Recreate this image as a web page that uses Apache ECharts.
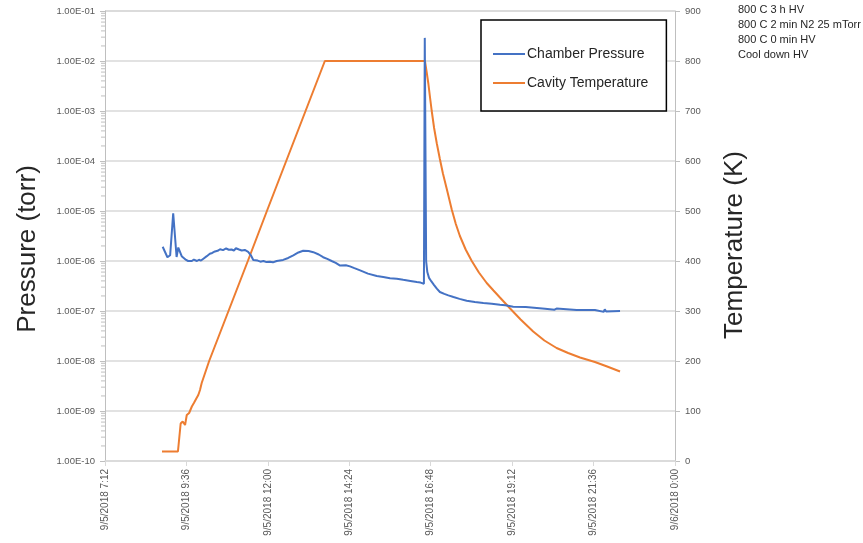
<!DOCTYPE html>
<html>
<head>
<meta charset="utf-8">
<script src="https://cdn.jsdelivr.net/npm/echarts@6/dist/echarts.min.js"></script>
<style>
  html, body { margin: 0; padding: 0; background: #fff; }
  #chart { width: 863px; height: 543px; }
</style>
</head>
<body>
<div id="chart"></div>
<script>
// Time of day in hours (9/5/2018), chamber pressure in torr
const pressureTime = [
  8.90, 9.04, 9.12, 9.21, 9.31, 9.36, 9.46, 9.59, 9.65, 9.70, 9.76, 9.82, 9.91, 9.97,
  10.03, 10.09, 10.20, 10.29, 10.36, 10.44, 10.52, 10.59, 10.68, 10.77, 10.85, 10.93,
  11.00, 11.06, 11.15, 11.23, 11.32, 11.42, 11.50, 11.57, 11.70, 11.78, 11.87, 11.96,
  12.06, 12.15, 12.26, 12.45, 12.60, 12.75, 12.90, 13.04, 13.20, 13.34, 13.50, 13.63,
  13.75, 13.88, 14.00, 14.13, 14.18, 14.30, 14.42, 14.55, 14.72, 14.95, 15.21, 15.40,
  15.60, 15.80, 15.99, 16.20, 16.39, 16.50, 16.60, 16.625, 16.645, 16.665, 16.70, 16.75,
  16.82, 16.90, 16.98, 17.07, 17.20, 17.32, 17.47, 17.65, 17.86, 18.10, 18.35, 18.60,
  18.84, 19.00, 19.23, 19.60, 20.17, 20.20, 20.45, 20.51, 20.55, 21.10, 21.64, 21.69,
  21.90, 21.93, 21.97, 22.38
];
const pressureValue = [
  1.93e-6, 1.19e-6, 1.3e-6, 9.0e-6, 1.2e-6, 1.86e-6, 1.25e-6, 1.05e-6, 1.0e-6, 1.08e-6, 1.0e-6, 1.07e-6, 1.0e-6, 1.06e-6,
  1.02e-6, 1.1e-6, 1.25e-6, 1.4e-6, 1.45e-6, 1.55e-6, 1.6e-6, 1.72e-6, 1.65e-6, 1.78e-6, 1.68e-6, 1.7e-6,
  1.62e-6, 1.8e-6, 1.7e-6, 1.62e-6, 1.66e-6, 1.52e-6, 1.3e-6, 1.05e-6, 1.02e-6, 0.97e-6, 1.0e-6, 0.95e-6,
  0.97e-6, 0.94e-6, 1.0e-6, 1.05e-6, 1.15e-6, 1.3e-6, 1.48e-6, 1.6e-6, 1.58e-6, 1.5e-6, 1.35e-6, 1.19e-6,
  1.1e-6, 1.0e-6, 0.92e-6, 8.1e-7, 8.8e-7, 8.2e-7, 7.8e-7, 7.2e-7, 6.5e-7, 5.6e-7, 5.0e-7, 4.8e-7,
  4.5e-7, 4.4e-7, 4.2e-7, 4.0e-7, 3.8e-7, 3.7e-7, 3.5e-7, 2.9e-2, 2.9e-2, 1.0e-6, 6.0e-7, 4.6e-7,
  3.9e-7, 3.3e-7, 2.8e-7, 2.4e-7, 2.2e-7, 2.05e-7, 1.9e-7, 1.75e-7, 1.6e-7, 1.52e-7, 1.45e-7, 1.4e-7,
  1.33e-7, 1.3e-7, 1.22e-7, 1.2e-7, 1.11e-7, 1.06e-7, 1.06e-7, 1.12e-7, 1.05e-7, 1.05e-7, 1.05e-7, 9.6e-8,
  9.6e-8, 1.08e-7, 9.8e-8, 1.0e-7
];

// Time of day in hours, cavity temperature in K
const tempTime = [
  8.88, 9.35, 9.43, 9.49, 9.56, 9.61, 9.68, 9.76, 9.82, 9.90, 9.95, 10.00, 10.05,
  10.27, 11.41, 12.00, 13.68, 16.63, 16.68, 16.73, 16.78, 16.83, 16.90, 16.98, 17.07,
  17.16, 17.27, 17.42, 17.54, 17.66, 17.83, 18.01, 18.22, 18.45, 18.65, 18.84, 19.14,
  19.45, 19.82, 20.15, 20.51, 20.85, 21.20, 21.64, 22.00, 22.38
];
const tempValue = [
  19, 19, 75, 79, 72, 92, 96, 109, 116, 126, 132, 142, 156,
  200, 400, 505, 800, 800, 778, 755, 727, 700, 666, 635, 604,
  575, 545, 503, 474, 450, 423, 400, 377, 356, 341, 327, 305,
  283, 259, 241, 226, 216, 207, 198, 189, 179
];

// Run conditions listed beside the chart
const notes = ['800 C 3 h HV', '800 C 2 min N2 25 mTorr', '800 C 0 min HV', 'Cool down HV'];

// Minor log ticks (2..9 within each decade) on the pressure axis
const minorTickValues = [];
for (let e = -10; e < -1; e++) {
  for (let k = 2; k <= 9; k++) minorTickValues.push(k * Math.pow(10, e));
}

const textGray = '#595959';
const gridGray = '#d9d9d9';
const font = 'Liberation Sans';

function fmtExp(v) {
  const e = Math.round(Math.log10(v));
  const sign = e < 0 ? '-' : '+';
  const a = Math.abs(e);
  return '1.00E' + sign + (a < 10 ? '0' + a : a);
}
function fmtTime(h) {
  const total = Math.round(h * 60);
  const day = total >= 24 * 60 ? '9/6/2018' : '9/5/2018';
  const m = total % (24 * 60);
  const hh = Math.floor(m / 60);
  const mm = m % 60;
  return day + ' ' + hh + ':' + (mm < 10 ? '0' + mm : mm);
}

const chart = echarts.init(document.getElementById('chart'), null, { renderer: 'canvas' });

chart.setOption({
  animation: false,
  backgroundColor: '#ffffff',
  grid: { left: 105, right: 188, top: 11, bottom: 82, containLabel: false, outerBoundsMode: 'none' },
  legend: {
    left: 481, top: 20,
    orient: 'vertical',
    data: ['Chamber Pressure', 'Cavity Temperature'],
    icon: 'rect',
    itemWidth: 32, itemHeight: 2, itemGap: 13,
    padding: [26, 18, 20, 12],
    borderColor: '#000', borderWidth: 1.5,
    backgroundColor: '#fff',
    textStyle: { fontFamily: font, fontSize: 14, color: '#262626', padding: [0, 0, 0, -3], lineHeight: 16 }
  },
  xAxis: {
    type: 'value', min: 7.2, max: 24, interval: 2.4,
    axisLine: { show: true, lineStyle: { color: gridGray, width: 1.5 } },
    axisTick: { show: true, length: 5, lineStyle: { color: gridGray } },
    splitLine: { show: false },
    axisLabel: {
      rotate: 90, margin: 8, color: textGray, fontFamily: font, fontSize: 10,
      formatter: fmtTime
    }
  },
  yAxis: [
    {
      type: 'log', logBase: 10, min: 1e-10, max: 1e-1, interval: 1,
      axisLine: { show: true, lineStyle: { color: '#bfbfbf', width: 1 } },
      axisTick: { show: true, inside: false, length: 5, lineStyle: { color: '#bfbfbf' } },
      splitLine: { show: true, lineStyle: { color: gridGray, width: 1.5 } },
      axisLabel: { margin: 10, color: textGray, fontFamily: font, fontSize: 9.5, formatter: fmtExp }
    },
    {
      type: 'value', min: 0, max: 900, interval: 100, position: 'right',
      axisLine: { show: true, lineStyle: { color: '#bfbfbf', width: 1 } },
      axisTick: { show: true, length: 5, lineStyle: { color: '#bfbfbf' } },
      splitLine: { show: false },
      axisLabel: { margin: 10, color: textGray, fontFamily: font, fontSize: 9.5 }
    }
  ],
  graphic: [
    {
      type: 'text', x: 28, y: 249, rotation: Math.PI / 2, silent: true,
      style: { text: 'Pressure (torr)', fontFamily: font, fontSize: 26, fill: '#262626', align: 'center', verticalAlign: 'middle' }
    },
    {
      type: 'text', x: 735, y: 245, rotation: Math.PI / 2, silent: true,
      style: { text: 'Temperature (K)', fontFamily: font, fontSize: 26, fill: '#262626', align: 'center', verticalAlign: 'middle' }
    }
  ].concat(notes.map((t, i) => ({
    type: 'text', left: 738, top: 4 + i * 15, silent: true,
    style: { text: t, fontFamily: font, fontSize: 11, fill: '#262626' }
  }))),
  series: [
    {
      name: 'Chamber Pressure', type: 'line', yAxisIndex: 0,
      data: pressureTime.map((t, i) => [t, pressureValue[i]]),
      symbol: 'none', color: '#4472C4',
      lineStyle: { width: 2, color: '#4472C4' }, z: 3
    },
    {
      name: 'Cavity Temperature', type: 'line', yAxisIndex: 1,
      data: tempTime.map((t, i) => [t, tempValue[i]]),
      symbol: 'none', color: '#ED7D31',
      lineStyle: { width: 2, color: '#ED7D31' }, z: 2
    },
    {
      name: 'minorTicks', type: 'custom', yAxisIndex: 0, silent: true, clip: false,
      data: minorTickValues.map(v => [7.2, v]),
      renderItem: function (params, api) {
        const p = api.coord([api.value(0), api.value(1)]);
        return {
          type: 'line',
          shape: { x1: p[0] - 4, y1: p[1], x2: p[0], y2: p[1] },
          style: { stroke: '#bfbfbf', lineWidth: 1 }
        };
      }
    }
  ]
});
</script>
</body>
</html>
